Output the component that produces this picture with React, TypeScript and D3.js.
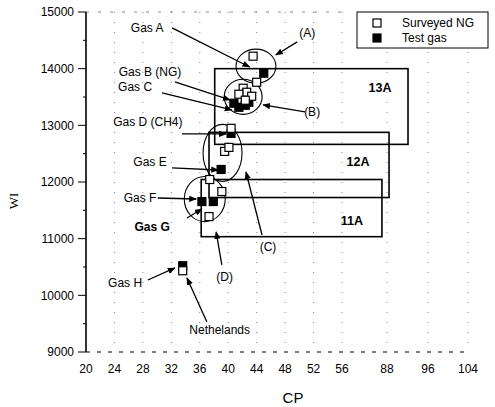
import React from "react";
import * as d3 from "d3";

// Axis ticks
const xTicks = [20, 24, 28, 32, 36, 40, 44, 48, 52, 56, 88, 96, 104];
const yTicks = [9000, 10000, 11000, 12000, 13000, 14000, 15000];
const yMinor = [9500, 10500, 11500, 12500, 13500, 14500];

// Surveyed natural gas (open squares)
const surveyedCP = [43.5, 44.0, 42.1, 42.6, 43.3, 41.5, 42.4, 40.4, 39.5, 40.1, 37.4, 39.1, 37.3, 33.6];
const surveyedWI = [14220, 13760, 13655, 13584, 13513, 13549, 13443, 12947, 12540, 12611, 12044, 11832, 11390, 10434];

// Test gases (filled squares)
const testCP = [45.0, 40.8, 41.5, 42.4, 42.9, 40.4, 39.0, 36.3, 37.9, 33.6];
const testWI = [13920, 13390, 13319, 13354, 13407, 12859, 12221, 11655, 11655, 10522];

// Gas group ranges (CP min, CP max, WI min, WI max)
const groupNames = ["13A", "12A", "11A"];
const groupCPmin = [38.1, 37.3, 36.2];
const groupCPmax = [92.1, 88.4, 84.4];
const groupWImin = [12664, 11726, 11035];
const groupWImax = [14000, 12876, 12044];
const groupLabelCP = [83.0, 67.4, 63.1];
const groupLabelWI = [13660, 12354, 11312];

// Cluster outlines: centre and half-extent in data units
const clusterCP = [43.9, 42.1, 39.2, 36.7];
const clusterWI = [14044, 13504, 12513, 11699];
const clusterRCP = [2.8, 2.67, 2.74, 2.88];
const clusterRWI = [301, 310, 504, 398];

// Callouts: text, text centre, arrow start, arrow end (CP, WI)
const calloutText = ["Gas A", "Gas B (NG)", "Gas C", "Gas D (CH4)", "Gas E", "Gas F", "Gas G", "Gas H", "Nethelands", "(A)", "(B)", "(C)", "(D)"];
const calloutCP = [28.6, 29.0, 26.9, 28.7, 29.0, 27.6, 29.3, 25.5, 38.8, 51.1, 51.8, 45.6, 39.5];
const calloutWI = [14719, 13942, 13677, 13060, 12354, 11718, 11206, 10218, 9388, 14630, 13236, 10853, 10324];
const arrowFromCP = [32.1, 32.5, 30.7, 33.5, 32.1, 30.1, 34.2, 28.7, 37.0, 49.7, 50.8, 44.75, 39.1];
const arrowFromWI = [14719, 13765, 13571, 12848, 12248, 11718, 11365, 10271, 9530, 14472, 13236, 11065, 10536];
const arrowToCP = [43.0, 40.25, 40.5, 39.7, 38.6, 35.5, 36.3, 32.5, 34.2, 46.7, 44.9, 42.5, 38.3];
const arrowToWI = [14030, 13448, 13271, 12848, 12212, 11700, 11524, 10483, 10306, 14242, 13360, 12177, 11118];
const calloutBold = [false, false, false, false, false, false, true, false, false, false, false, false, false];

const W = 495;
const H = 407;
const font = "'Liberation Sans', Arial, sans-serif";

export default function App() {
  const x = d3.scaleLinear().domain([20, 56, 88, 96, 104]).range([86, 342, 387, 428, 468]);
  const y = d3.scaleLinear().domain([9000, 15000]).range([352, 12]);
  const m = 8;

  const sq = (cx: number, cy: number, filled: boolean, key: string) => (
    <rect
      key={key}
      x={x(cx) - m / 2}
      y={y(cy) - m / 2}
      width={m}
      height={m}
      fill={filled ? "#000" : "#fff"}
      stroke="#000"
      strokeWidth={1.2}
    />
  );

  return (
    <svg width={W} height={H} style={{ position: "absolute", left: 0, top: 0, background: "#fff" }}>
      <defs>
        <marker id="ah" viewBox="0 0 10 10" refX="9" refY="5" markerWidth="6" markerHeight="6" orient="auto">
          <path d="M0,1 L10,5 L0,9 z" fill="#000" />
        </marker>
      </defs>

      {/* faint dotted grid */}
      <g stroke="#888" strokeWidth={1} strokeDasharray="1 9">
        {xTicks.slice(1).map((t) => (
          <line key={"gx" + t} x1={x(t)} x2={x(t)} y1={y(15000)} y2={y(9000)} />
        ))}
        <line x1={x(20)} x2={x(56)} y1={y(15000)} y2={y(15000)} strokeDasharray="3 9" />
      </g>

      {/* group boxes */}
      {groupNames.map((g, i) => (
        <g key={g}>
          <rect
            x={x(groupCPmin[i])}
            y={y(groupWImax[i])}
            width={x(groupCPmax[i]) - x(groupCPmin[i])}
            height={y(groupWImin[i]) - y(groupWImax[i])}
            fill="none"
            stroke="#000"
            strokeWidth={1.6}
          />
          <text
            x={x(groupLabelCP[i])}
            y={y(groupLabelWI[i])}
            dy="0.35em"
            fontFamily={font}
            fontWeight="bold"
            fontSize={12.5}
            textAnchor="middle"
          >
            {g}
          </text>
        </g>
      ))}

      {/* cluster outlines */}
      {clusterCP.map((c, i) => (
        <ellipse
          key={"cl" + i}
          cx={x(c)}
          cy={y(clusterWI[i])}
          rx={x(c + clusterRCP[i]) - x(c)}
          ry={y(clusterWI[i] - clusterRWI[i]) - y(clusterWI[i])}
          fill="none"
          stroke="#000"
          strokeWidth={1.1}
        />
      ))}

      {/* markers */}
      {testCP.map((c, i) => sq(c, testWI[i], true, "t" + i))}
      {surveyedCP.map((c, i) => sq(c, surveyedWI[i], false, "s" + i))}

      {/* callouts */}
      {calloutText.map((t, i) => (
        <g key={"co" + i}>
          <line
            x1={x(arrowFromCP[i])}
            y1={y(arrowFromWI[i])}
            x2={x(arrowToCP[i])}
            y2={y(arrowToWI[i])}
            stroke="#000"
            strokeWidth={1.3}
            markerEnd="url(#ah)"
          />
          <text
            x={x(calloutCP[i])}
            y={y(calloutWI[i])}
            dy="0.35em"
            fontFamily={font}
            fontSize={12}
            fontWeight={calloutBold[i] ? "bold" : "normal"}
            textAnchor="middle"
          >
            {t}
          </text>
        </g>
      ))}

      {/* y axis */}
      <line x1={x(20)} x2={x(20)} y1={y(15000)} y2={y(9000)} stroke="#000" strokeWidth={1.6} />
      {yTicks.map((t) => (
        <g key={"yt" + t}>
          <line x1={x(20) - 8} x2={x(20)} y1={y(t)} y2={y(t)} stroke="#000" strokeWidth={1} />
          <text x={x(20) - 12} y={y(t)} dy="0.35em" textAnchor="end" fontFamily={font} fontSize={12}>
            {t}
          </text>
        </g>
      ))}
      {yMinor.map((t) => (
        <line key={"ym" + t} x1={x(20) - 3} x2={x(20)} y1={y(t)} y2={y(t)} stroke="#000" strokeWidth={1} />
      ))}

      {/* x axis */}
      <line x1={x(20)} x2={x(104)} y1={y(9000)} y2={y(9000)} stroke="#000" strokeWidth={1} strokeDasharray="4 7" />
      {xTicks.map((t) => (
        <text key={"xt" + t} x={x(t)} y={y(9000) + 21} textAnchor="middle" fontFamily={font} fontSize={12}>
          {t}
        </text>
      ))}

      <text x={(x(20) + x(104)) / 2 + 16} y={403} textAnchor="middle" fontFamily={font} fontSize={15}>
        CP
      </text>
      <text
        transform={`translate(18,${y(12000) + 19}) rotate(-90)`}
        textAnchor="middle"
        fontFamily="'Liberation Serif', serif"
        fontSize={13}
      >
        WI
      </text>

      {/* legend */}
      <g>
        <rect x={357} y={12} width={131} height={36} fill="#fff" stroke="#000" strokeWidth={1} />
        <rect x={373} y={19} width={8} height={8} fill="#fff" stroke="#000" strokeWidth={1.2} />
        <rect x={373} y={34} width={8} height={8} fill="#000" stroke="#000" strokeWidth={1.2} />
        <text x={402} y={23} dy="0.35em" fontFamily={font} fontSize={12}>
          Surveyed NG
        </text>
        <text x={402} y={38} dy="0.35em" fontFamily={font} fontSize={12}>
          Test gas
        </text>
      </g>
    </svg>
  );
}
